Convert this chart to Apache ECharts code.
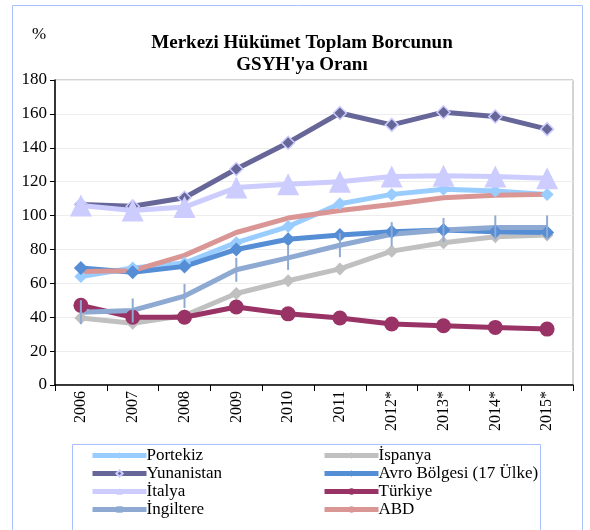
<!DOCTYPE html>
<html>
<head>
<meta charset="utf-8">
<script src="https://cdn.jsdelivr.net/npm/echarts@6/dist/echarts.min.js"></script>
<style>
  html, body { margin: 0; padding: 0; background: #fff; }
  #chart { width: 590px; height: 530px; }
</style>
</head>
<body>
<div id="chart"></div>
<script>
// yillar
var years = ['2006', '2007', '2008', '2009', '2010', '2011', '2012*', '2013*', '2014*', '2015*'];

var portekiz   = [64, 69, 72, 84, 93.5, 107, 112.5, 115.5, 114.5, 112.5];
var ispanya    = [39.5, 36.5, 41, 54, 61.5, 68.5, 79, 84, 87.5, 88.5];
var yunanistan = [106.5, 105.5, 110.5, 127.5, 143, 160.5, 153.5, 161, 158.5, 151];
var avro       = [69, 66.5, 70, 80, 86, 88.5, 90.5, 91.5, 90.5, 90];
var italya     = [106, 103, 105, 116.5, 118.5, 120, 123, 123.5, 123, 122];
var turkiye    = [47, 40, 40, 46, 42, 39.5, 36, 35, 34, 33];
var ingiltere  = [43, 44, 52.5, 68, 75, 82.5, 89, 91.5, 93, 93];
var abd        = [67, 67.5, 76.5, 90, 98.5, 103, 106.5, 110.5, 112, 112.5];

var serif = '"Liberation Serif", "Times New Roman", serif';

function line(name, data, color, symbol, size, extra) {
	var s = {
		name: name,
		type: 'line',
		data: data,
		symbol: symbol,
		symbolSize: size,
		showSymbol: symbol !== 'none',
		lineStyle: { color: color, width: 5 },
		itemStyle: { color: color },
		emphasis: { disabled: true },
		animation: false
	};
	if (extra) Object.assign(s.itemStyle, extra);
	return s;
}

var chart = echarts.init(document.getElementById('chart'));

// legend icin ortak ayar
var legendBase = {
	orient: 'vertical',
	top: 447,
	padding: 0,
	itemWidth: 54,
	itemHeight: 8,
	itemGap: 1,
	lineStyle: { width: 5 },
	textStyle: { fontFamily: serif, fontSize: 17, color: '#000', lineHeight: 17, padding: [0, 0, 0, -5] }
};

chart.setOption({
	animation: false,
	title: {
		text: "Merkezi Hükümet Toplam Borcunun\nGSYH'ya Oranı",
		left: 297,
		textAlign: 'center',
		top: 27,
		textStyle: { fontFamily: serif, fontSize: 19, fontWeight: 'bold', color: '#000', lineHeight: 22 }
	},
	legend: [
		Object.assign({ left: 90, data: ['Portekiz', 'Yunanistan', 'İtalya', 'İngiltere'] }, legendBase),
		Object.assign({ left: 322, data: ['İspanya', 'Avro Bölgesi (17 Ülke)', 'Türkiye', 'ABD'] }, legendBase)
	],
	grid: {
		left: 55, right: 17, top: 80, bottom: 145,
		show: true, borderColor: '#A6A6A6', borderWidth: 1
	},
	graphic: [
		{ type: 'rect', shape: { x: 12.5, y: 5.5, width: 570, height: 540 },
		  style: { fill: 'none', stroke: '#A9BFFF', lineWidth: 1 }, silent: true },
		{ type: 'rect', shape: { x: 72.5, y: 444.5, width: 468, height: 90 },
		  style: { fill: 'none', stroke: '#A9BFFF', lineWidth: 1 }, silent: true },
		{ type: 'text', left: 32, top: 26,
		  style: { text: '%', fontFamily: serif, fontSize: 17, fill: '#000' } }
	],
	xAxis: {
		type: 'category',
		data: years,
		boundaryGap: true,
		axisLine: { lineStyle: { color: '#000', width: 1.5 } },
		axisTick: { show: true, length: 6, lineStyle: { color: '#000' } },
		axisLabel: { rotate: 90, fontFamily: serif, fontSize: 16, color: '#000', margin: 6 },
		splitLine: { show: false }
	},
	yAxis: {
		type: 'value',
		min: 0, max: 180, interval: 20,
		axisLine: { show: true, lineStyle: { color: '#000', width: 1.5 } },
		axisTick: { show: true, length: 5, lineStyle: { color: '#000' } },
		axisLabel: { fontFamily: serif, fontSize: 17, color: '#000', margin: 8 },
		splitLine: { lineStyle: { color: '#EDEDED', width: 1 } }
	},
	series: [
		line('Portekiz', portekiz, '#99CCFF', 'diamond', 13),
		line('İspanya', ispanya, '#C0C0C0', 'diamond', 13),
		line('Yunanistan', yunanistan, '#666699', 'diamond', 13, { borderColor: '#CCCCFF', borderWidth: 1.5 }),
		line('Avro Bölgesi (17 Ülke)', avro, '#558ED5', 'diamond', 14),
		line('İtalya', italya, '#CCCCFF', 'triangle', 22),
		line('Türkiye', turkiye, '#993366', 'circle', 15),
		line('İngiltere', ingiltere, '#8EA9D2', 'rect', [2, 24]),
		line('ABD', abd, '#D99694', 'none', 0)
	]
});
</script>
</body>
</html>
